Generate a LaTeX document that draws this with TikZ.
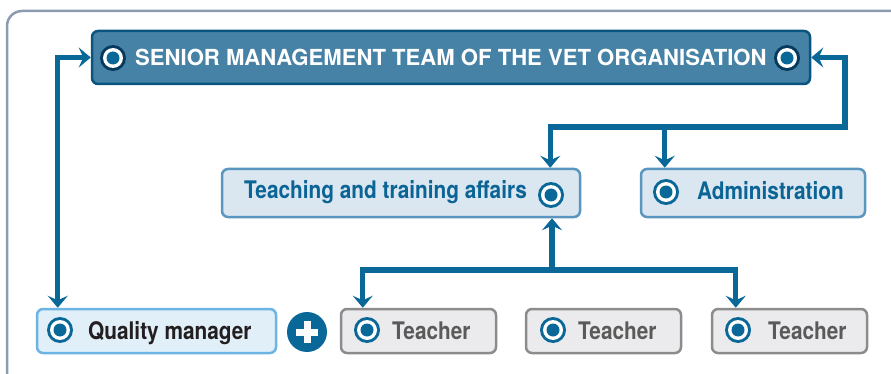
\documentclass[tikz,border=0pt]{standalone}
\usepackage{fontspec}
\setmainfont{TeX Gyre Heros}
\newfontfamily\condf{TeX Gyre Heros}[FakeStretch=0.86]
\usetikzlibrary{arrows.meta}
\definecolor{framec}{HTML}{8C9BAF}
\definecolor{arrc}{HTML}{0A6898}
\definecolor{seniorfill}{HTML}{4682A6}
\definecolor{seniorborder}{HTML}{0A5580}
\definecolor{navy}{HTML}{063A5C}
\definecolor{teachfill}{HTML}{DAE6F0}
\definecolor{teachborder}{HTML}{5A96BE}
\definecolor{teachtext}{HTML}{0A6496}
\definecolor{qmfill}{HTML}{E1EFF9}
\definecolor{qmborder}{HTML}{6CB4E4}
\definecolor{qmtext}{HTML}{231F20}
\definecolor{tfill}{HTML}{EBEBEE}
\definecolor{tborder}{HTML}{8C8C8C}
\definecolor{ttext}{HTML}{5A5A5A}
\tikzset{
  boxbase/.style={rounded corners=6pt, line width=2.5pt, inner sep=0pt},
  seniorbox/.style={boxbase, fill=seniorfill, draw=seniorborder, minimum width=718pt, minimum height=53pt},
  midbox/.style={boxbase, fill=teachfill, draw=teachborder, minimum height=48pt},
  qmbox/.style={boxbase, fill=qmfill, draw=qmborder, minimum width=239pt, minimum height=44pt},
  teachbox/.style={boxbase, fill=tfill, draw=tborder, minimum width=155pt, minimum height=44pt},
  lbl/.style={inner sep=0pt, anchor=base west, font=\condf\bfseries\fontsize{24.2}{28}\selectfont},
  arr/.style={draw=arrc, line width=5.4pt},
  tip/.tip={Stealth[length=12pt,width=20pt,inset=4.5pt]},
  icon/.pic={\fill[arrc] (0,0) circle (13pt); \fill[white] (0,0) circle (10pt); \fill[arrc] (0,0) circle (6.5pt);},
  navyicon/.pic={\fill[navy] (0,0) circle (13pt); \fill[white] (0,0) circle (10pt); \fill[arrc] (0,0) circle (6.5pt);}
}
\begin{document}
\begin{tikzpicture}[x=1pt,y=-1pt]
\useasboundingbox (0,0) rectangle (891,374);
\clip (0,0) rectangle (891,374);
\draw[framec, line width=2.5pt, rounded corners=15pt] (7,11) rectangle (910,395);

% boxes
\node[seniorbox] (senior) at (451,57.5) {};
\node[midbox, minimum width=358pt] (teach) at (401,193) {};
\node[midbox, minimum width=224pt] (admin) at (753,193) {};
\node[qmbox] (qm) at (156.5,331) {};
\node[teachbox] (t1) at (418.5,331) {};
\node[teachbox] (t2) at (603.5,331) {};
\node[teachbox] (t3) at (789.5,331) {};

% labels
\node[inner sep=0pt, anchor=base west, text=white, font=\bfseries\fontsize{22.1}{26}\selectfont] (seniortext) at (135,66) {SENIOR MANAGEMENT TEAM OF THE VET ORGANISATION};
\node[lbl, text=teachtext] (teachtext) at (244,199) {Teaching and training affairs};
\node[lbl, text=teachtext] (admintext) at (697,200) {Administration};
\node[lbl, text=qmtext] (qmtext) at (88,339) {Quality manager};
\node[lbl, text=ttext] (t1text) at (392,339) {Teacher};
\node[lbl, text=ttext] (t2text) at (578,339) {Teacher};
\node[lbl, text=ttext] (t3text) at (768,339) {Teacher};

% icons
\pic at (113,58) {navyicon};
\pic at (787,58) {navyicon};
\pic at (551,195) {icon};
\pic at (666,192) {icon};
\pic at (60,330) {icon};
\pic at (367,330) {icon};
\pic at (553,330) {icon};
\pic at (738,330) {icon};

% plus
\node[circle, fill=arrc, minimum size=40pt, inner sep=0pt] (plus) at (307,332) {};
\fill[white] ([xshift=-11pt,yshift=-3.5pt]plus.center) rectangle ([xshift=11pt,yshift=3.5pt]plus.center);
\fill[white] ([xshift=-3.5pt,yshift=-11pt]plus.center) rectangle ([xshift=3.5pt,yshift=11pt]plus.center);

% connectors
\coordinate (rtop) at (845,127);
\coordinate (hub) at (552,270);
\draw[arr, {tip}-{tip}] ([xshift=22pt]qm.north west) |- (senior.west);
\draw[arr, {tip}-{tip}] (senior.east) -| (rtop) -| ([xshift=-31pt]teach.north east);
\draw[arr, -{tip}] (rtop -| admin.north west) ++(25,0) coordinate (abr) -- (abr |- admin.north);
\draw[arr, {tip}-{tip}] ([xshift=23pt]t1.north west) |- (hub) -| ([xshift=25pt]t3.north west);
\draw[arr, -{tip}] (hub) -- (hub |- teach.south);
\end{tikzpicture}
\end{document}
